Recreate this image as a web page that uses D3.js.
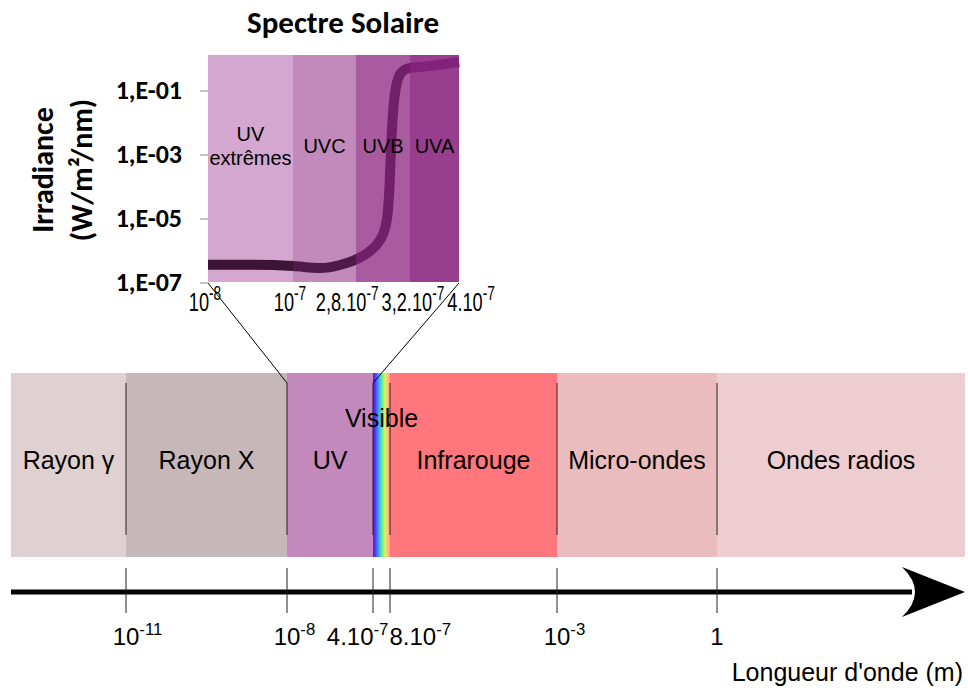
<!DOCTYPE html>
<html>
<head>
<meta charset="utf-8">
<script src="https://cdn.jsdelivr.net/npm/d3@7"></script>
<style>
	html, body { margin: 0; padding: 0; background: #fff; }
	svg { display: block; }
</style>
</head>
<body>
<div id="chart"></div>
<script>
/* global d3 */

// electromagnetic spectrum, limits between the domains (m)
let BAND_NAMES = ["Rayon γ", "Rayon X", "UV", "Visible", "Infrarouge", "Micro-ondes", "Ondes radios"];
let BAND_LIMITS = [1e-11, 1e-8, 4e-7, 8e-7, 1e-3, 1];
let BAND_TICK_LABELS = [["10", "-11"], ["10", "-8"], ["4.10", "-7"], ["8.10", "-7"], ["10", "-3"], ["1", ""]];

// inset: solar irradiance in the UV
let UV_NAMES = ["UV\nextrêmes", "UVC", "UVB", "UVA"];
let UV_LIMITS = [1e-8, 1e-7, 2.8e-7, 3.2e-7, 4e-7];
let UV_TICK_LABELS = [["10", "-8"], ["10", "-7"], ["2,8.10", "-7"], ["3,2.10", "-7"], ["4.10", "-7"]];
let IRR_TICKS = [1e-1, 1e-3, 1e-5, 1e-7];
let IRR_TICK_LABELS = ["1,E-01", "1,E-03", "1,E-05", "1,E-07"];

let SPECTRUM_WL = [1e-8, 5.5e-8, 1e-7, 1.77e-7, 2.343e-7, 2.807e-7, 2.904e-7, 2.978e-7, 3.015e-7, 3.037e-7, 3.048e-7, 3.059e-7, 3.074e-7, 3.096e-7, 3.133e-7, 3.193e-7, 3.363e-7, 4e-7];
let SPECTRUM_IRR = [3.7e-7, 3.7e-7, 3.4e-7, 2.94e-7, 3.65e-7, 5.6e-7, 1e-6, 2.2e-6, 5.2e-6, 1.9e-5, 1e-4, 1.44e-3, 2.05e-2, 0.133, 0.365, 0.52, 0.56, 0.81];

let BAND_COLORS = ["#dfd0d1", "#c6b8b8", "#c389bd", null, "#ff777c", "#ebbcbd", "#eecdd0"];
let RAINBOW = ["#7a00ff", "#4b3cff", "#3f8cff", "#40d0d0", "#7cf07c", "#e0f060", "#ffc080", "#ffa080"];
let UV_COLORS = ["#d3a7cf", "#c18abb", "#a95ba0", "#983e8e"];
let CURVE_COLORS = ["#3c1437", "#4f1a49", "#701f68", "#84217b"];

let WIDTH = 968, HEIGHT = 688;
let SANS = "'Liberation Sans', Arial, sans-serif";
let BOLD = "Carlito, Lato, sans-serif";

let band = { left: 11, right: 965, top: 373, bottom: 557, lineTop: 383, lineBottom: 535 };
let inset = { left: 208, right: 459, top: 55, bottom: 282 };
let AXIS_Y = 592;

// neither axis is really logarithmic: piecewise scales between the limits
let x = d3.scaleLinear().
	domain(BAND_LIMITS.map(Math.log10)).
	range([126, 287, 373, 390, 557, 717]);
let ix = d3.scaleLinear().
	domain(UV_LIMITS).
	range([inset.left, 293, 356, 410, inset.right]);
let iy = d3.scaleLog().
	domain([1e-7, 1e-1]).
	range([283, 91]);

let svg = d3.select("#chart").append("svg").
	attr("width", WIDTH).
	attr("height", HEIGHT).
	style("font-family", SANS);

svg.append("rect").
	attr("width", WIDTH).
	attr("height", HEIGHT).
	attr("fill", "#fff");

let defs = svg.append("defs");
defs.append("linearGradient").
	attr("id", "rainbow").
	selectAll("stop").
	data(RAINBOW).
	join("stop").
	attr("offset", (d, i) => i / (RAINBOW.length - 1)).
	attr("stop-color", d => d);

let curveGrad = defs.append("linearGradient").
	attr("id", "curve").
	attr("gradientUnits", "userSpaceOnUse").
	attr("x1", inset.left).
	attr("x2", inset.right).
	attr("y1", 0).
	attr("y2", 0);
let frac = v => (ix(v) - inset.left) / (inset.right - inset.left);
CURVE_COLORS.forEach((c, i) => {
	curveGrad.append("stop").attr("offset", frac(UV_LIMITS[i])).attr("stop-color", c);
	curveGrad.append("stop").attr("offset", frac(UV_LIMITS[i + 1])).attr("stop-color", c);
});

// labels like 10^-8 : base text plus raised exponent
function powText(g, [base, exp], size, expScale) {
	let t = g.append("text").attr("font-size", size);
	t.append("tspan").text(base);
	if(exp) {
		t.append("tspan").
			attr("font-size", size * expScale).
			attr("dy", -size * 0.42).
			text(exp);
	}
	return t;
}

// push overlapping labels apart, each cluster centred on its wanted centre
function spread(items, gap) {
	let groups = items.map(d => ({ items: [d], c: d.c, w: d.w }));
	let merged = true;
	while(merged) {
		merged = false;
		for(let i = 0; i < groups.length - 1; i++) {
			let a = groups[i], b = groups[i + 1];
			if(a.c + a.w / 2 + gap > b.c - b.w / 2) {
				let all = a.items.concat(b.items);
				groups.splice(i, 2, { items: all, w: a.w + gap + b.w, c: d3.mean(all, d => d.c) });
				merged = true;
				break;
			}
		}
	}
	groups.forEach(g => {
		let pos = g.c - g.w / 2;
		g.items.forEach(d => {
			d.x = pos;
			pos += d.w + gap;
		});
	});
}

// ---- bottom band ----
let edges = [band.left].concat(BAND_LIMITS.map(v => x(Math.log10(v))), [band.right]);
let segs = BAND_NAMES.map((name, i) => ({ name, x0: edges[i], x1: edges[i + 1], color: BAND_COLORS[i] }));

svg.append("g").
	selectAll("rect").
	data(segs).
	join("rect").
	attr("x", d => d.x0).
	attr("y", band.top).
	attr("width", d => d.x1 - d.x0).
	attr("height", band.bottom - band.top).
	attr("fill", d => d.color || "url(#rainbow)");

svg.append("g").
	attr("stroke", "#222").
	attr("stroke-width", 1).
	selectAll("line").
	data(BAND_LIMITS).
	join("line").
	attr("x1", d => x(Math.log10(d))).
	attr("x2", d => x(Math.log10(d))).
	attr("y1", band.lineTop).
	attr("y2", band.lineBottom);

svg.append("g").
	attr("font-size", 25).
	attr("text-anchor", "middle").
	selectAll("text").
	data(segs).
	join("text").
	attr("x", d => (d.x0 + d.x1) / 2).
	attr("y", d => d.x1 - d.x0 < 40 ? 427 : 469).
	text(d => d.name);

// ---- wavelength axis ----
svg.append("line").
	attr("x1", band.left).
	attr("x2", 912).
	attr("y1", AXIS_Y).
	attr("y2", AXIS_Y).
	attr("stroke", "#000").
	attr("stroke-width", 5);

svg.append("path").
	attr("d", `M902,${AXIS_Y - 25} L${band.right},${AXIS_Y} L902,${AXIS_Y + 25} Q928,${AXIS_Y} 902,${AXIS_Y - 25} Z`).
	attr("fill", "#000");

svg.append("g").
	attr("stroke", "#222").
	selectAll("line").
	data(BAND_LIMITS).
	join("line").
	attr("x1", d => x(Math.log10(d))).
	attr("x2", d => x(Math.log10(d))).
	attr("y1", AXIS_Y - 24).
	attr("y2", AXIS_Y + 21);

let axisLabels = BAND_TICK_LABELS.map((lab, i) => {
	let t = powText(svg, lab, 24, 0.7).attr("y", 645);
	let w = t.node().getComputedTextLength();
	let baseW = t.select("tspan").node().getComputedTextLength();
	// the base number is centred on its tick, the exponent hangs right
	return { t, w, c: x(Math.log10(BAND_LIMITS[i])) - baseW / 2 + w / 2 };
});
spread(axisLabels, 1);
axisLabels.forEach(d => d.t.attr("x", d.x));

svg.append("text").
	attr("x", 963).
	attr("y", 681).
	attr("text-anchor", "end").
	attr("font-size", 25).
	text("Longueur d'onde (m)");

// ---- inset: solar spectrum ----
svg.append("g").
	selectAll("rect").
	data(UV_COLORS).
	join("rect").
	attr("x", (d, i) => ix(UV_LIMITS[i])).
	attr("y", inset.top).
	attr("width", (d, i) => ix(UV_LIMITS[i + 1]) - ix(UV_LIMITS[i])).
	attr("height", inset.bottom - inset.top).
	attr("fill", d => d);

let spectrum = SPECTRUM_WL.map((w, i) => [w, SPECTRUM_IRR[i]]);
svg.append("path").
	datum(spectrum).
	attr("fill", "none").
	attr("stroke", "url(#curve)").
	attr("stroke-width", 10).
	attr("d", d3.line().
		x(d => ix(d[0])).
		y(d => iy(d[1])).
		curve(d3.curveMonotoneX));

let uvLabels = svg.append("g").
	attr("font-size", 20).
	attr("text-anchor", "middle").
	selectAll("text").
	data(UV_NAMES).
	join("text").
	attr("x", (d, i) => (ix(UV_LIMITS[i]) + ix(UV_LIMITS[i + 1])) / 2);
uvLabels.each(function(d) {
	let lines = d.split("\n");
	d3.select(this).
		selectAll("tspan").
		data(lines).
		join("tspan").
		attr("x", d3.select(this).attr("x")).
		attr("y", (l, j) => 153 + (j - (lines.length - 1) / 2) * 24).
		text(l => l);
});

// y axis: ticks only, no domain line
svg.append("g").
	attr("stroke", "#888").
	selectAll("line").
	data(IRR_TICKS).
	join("line").
	attr("x1", inset.left - 8).
	attr("x2", inset.left).
	attr("y1", d => iy(d)).
	attr("y2", d => iy(d));

svg.append("g").
	attr("font-family", BOLD).
	attr("font-weight", "bold").
	attr("font-size", 26).
	attr("text-anchor", "end").
	selectAll("text").
	data(IRR_TICKS).
	join("text").
	attr("x", 182).
	attr("y", d => iy(d) + 8).
	text((d, i) => IRR_TICK_LABELS[i]);

svg.append("text").
	attr("x", 343).
	attr("y", 33).
	attr("text-anchor", "middle").
	attr("font-family", BOLD).
	attr("font-weight", "bold").
	attr("font-size", 31).
	text("Spectre Solaire");

let yTitle = svg.append("g").
	attr("transform", "translate(0,170) rotate(-90)").
	attr("font-family", BOLD).
	attr("font-weight", "bold").
	attr("font-size", 30).
	attr("text-anchor", "middle");
yTitle.append("text").attr("y", 53).text("Irradiance");
yTitle.append("text").attr("y", 92).text("(W/m²/nm)");

// inset x labels are squeezed horizontally
let SQUEEZE = 0.7;
let insetLabels = UV_TICK_LABELS.map((lab, i) => {
	let g = svg.append("g");
	let t = powText(g, lab, 26, 0.75);
	let w = t.node().getComputedTextLength() * SQUEEZE;
	return { g, w, c: ix(UV_LIMITS[i]) - 3 };
});
spread(insetLabels, 3);
insetLabels.forEach(d => d.g.attr("transform", `translate(${d.x},311) scale(${SQUEEZE},1)`));

// zoom lines from the inset down to the UV band
svg.append("g").
	attr("stroke", "#000").
	selectAll("line").
	data([UV_LIMITS[0], UV_LIMITS[UV_LIMITS.length - 1]]).
	join("line").
	attr("x1", d => ix(d)).
	attr("y1", inset.bottom + 1).
	attr("x2", d => x(Math.log10(d))).
	attr("y2", band.lineTop);
</script>
</body>
</html>
